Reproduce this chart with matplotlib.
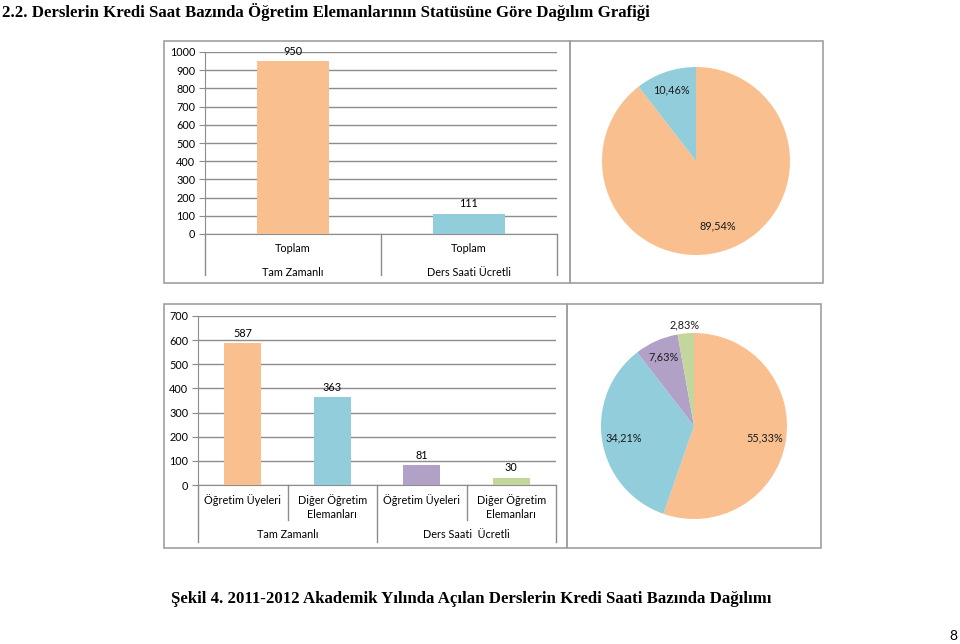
import numpy as np
import matplotlib
matplotlib.use("Agg")
import matplotlib.pyplot as plt
from matplotlib.patches import Rectangle

plt.rcParams["font.family"] = ["Lato", "DejaVu Sans"]

W, H = 960, 644

# ------------------------------------------------------------------
# veriler
# ------------------------------------------------------------------
top_cats = ["Toplam", "Toplam"]
top_groups = ["Tam Zamanlı", "Ders Saati Ücretli"]
top_group_sizes = [1, 1]
top_values = [950, 111]
top_pie_pct = [89.54, 10.46]

bot_cats = ["Öğretim Üyeleri", "Diğer Öğretim\nElemanları",
            "Öğretim Üyeleri", "Diğer Öğretim\nElemanları"]
bot_groups = ["Tam Zamanlı", "Ders Saati  Ücretli"]
bot_group_sizes = [2, 2]
bot_values = [587, 363, 81, 30]
bot_pie_pct = [55.33, 34.21, 7.63, 2.83]

ORANGE = "#F9BF8F"
BLUE = "#92CDDC"
PURPLE = "#B2A1C7"
GREEN = "#C3D69B"
GRID = "#8C8C8C"
BORDER = "#A0A0A0"
FS = 7.8

fig = plt.figure(figsize=(W / 100, H / 100), dpi=100)


def px_axes(x0, y0, x1, y1):
    return fig.add_axes([x0 / W, 1 - y1 / H, (x1 - x0) / W, (y1 - y0) / H])


def px_box(x0, y0, x1, y1):
    fig.add_artist(Rectangle((x0 / W, 1 - y1 / H), (x1 - x0) / W, (y1 - y0) / H,
                             transform=fig.transFigure, fill=False,
                             ec=BORDER, lw=1.2))


def bar_panel(ax, values, colors, cats, groups, sizes, ymax, step,
              group_dy, inner_len, outer_len):
    x = np.arange(len(values))
    ax.bar(x, values, width=0.41, color=colors, zorder=3)
    ax.set_xlim(-0.5, len(values) - 0.5)
    ax.set_ylim(0, ymax)
    ax.set_yticks(range(0, ymax + 1, step))
    ax.yaxis.grid(True, color=GRID, lw=1)
    ax.set_axisbelow(True)
    for s in ["top", "right"]:
        ax.spines[s].set_visible(False)
    for s in ["left", "bottom"]:
        ax.spines[s].set_color(GRID)
    ax.tick_params(axis="y", length=4, color=GRID, labelsize=FS, pad=3)
    ax.set_xticks([])

    ph = ax.bbox.height
    tr = ax.get_xaxis_transform()
    for xi, v in zip(x, values):
        ax.annotate(str(v), (xi, v), xytext=(0, 10), textcoords="offset pixels",
                    ha="center", va="center", fontsize=FS)
    for xi, c in zip(x, cats):
        ax.text(xi, -9 / ph, c, transform=tr, ha="center", va="top",
                fontsize=FS, linespacing=1.3)

    # grup etiketleri ve ayirici cizgiler
    start = 0
    bounds = [-0.5]
    for g, n in zip(groups, sizes):
        center = start + (n - 1) / 2
        ax.text(center, -group_dy / ph, g, transform=tr, ha="center",
                va="center", fontsize=FS)
        for k in range(1, n):
            xb = start + k - 0.5
            ax.plot([xb, xb], [0, -inner_len / ph], transform=tr,
                    clip_on=False, color=GRID, lw=1)
        start += n
        bounds.append(start - 0.5)
    for xb in bounds:
        ax.plot([xb, xb], [0, -outer_len / ph], transform=tr,
                clip_on=False, color=GRID, lw=1)


def pie_panel(ax, pct, colors, dists):
    wedges, _ = ax.pie(pct, colors=colors, startangle=90, counterclock=False,
                       wedgeprops=dict(linewidth=0))
    for w, p, d in zip(wedges, pct, dists):
        ang = np.deg2rad((w.theta1 + w.theta2) / 2)
        ax.text(d * np.cos(ang), d * np.sin(ang),
                f"{p:.2f}%".replace(".", ","),
                ha="center", va="center", fontsize=FS, color="#1A1A1A")
    ax.set_xlim(-1, 1)
    ax.set_ylim(-1, 1)


# ------------------------------------------------------------------
# ust panel
# ------------------------------------------------------------------
px_box(164, 41, 570, 283)
px_box(570, 41, 823, 283)
ax1 = px_axes(205, 52, 557, 234)
bar_panel(ax1, top_values, [ORANGE, BLUE], top_cats, top_groups,
          top_group_sizes, 1000, 100, 38, 41, 41)
ax2 = px_axes(696 - 94, 161 - 94, 696 + 94, 161 + 94)
pie_panel(ax2, top_pie_pct, [ORANGE, BLUE], [0.73, 0.8])

# ------------------------------------------------------------------
# alt panel
# ------------------------------------------------------------------
px_box(164, 304, 567, 548)
px_box(567, 304, 821, 548)
ax3 = px_axes(198, 316, 556, 485)
bar_panel(ax3, bot_values, [ORANGE, BLUE, PURPLE, GREEN], bot_cats,
          bot_groups, bot_group_sizes, 700, 100, 50, 35, 57)
ax4 = px_axes(694 - 93, 426 - 93, 694 + 93, 426 + 93)
pie_panel(ax4, bot_pie_pct, [ORANGE, BLUE, PURPLE, GREEN],
          [0.77, 0.77, 0.81, 1.09])

# ------------------------------------------------------------------
# basliklar
# ------------------------------------------------------------------
fig.text(2 / W, 1 - 12 / H,
         "2.2. Derslerin Kredi Saat Bazında Öğretim Elemanlarının Statüsüne Göre Dağılım Grafiği",
         family=["Liberation Serif", "DejaVu Serif"], fontweight="bold",
         fontsize=12.1, va="center", ha="left")
fig.text(171 / W, 1 - 599 / H,
         "Şekil 4. 2011-2012 Akademik Yılında Açılan Derslerin Kredi Saati Bazında Dağılımı",
         family=["Liberation Serif", "DejaVu Serif"], fontweight="bold",
         fontsize=12.1, va="center", ha="left")
fig.text(953 / W, 1 - 636 / H, "8", fontsize=10, ha="center", va="center")

fig.savefig("out.png", dpi=100)
plt.close(fig)
